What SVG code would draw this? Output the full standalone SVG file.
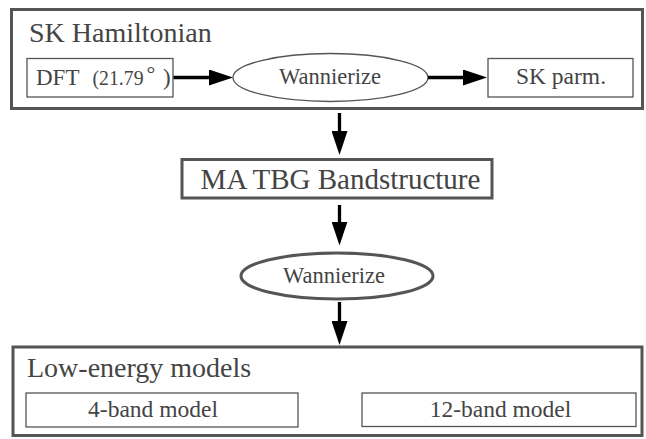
<svg xmlns="http://www.w3.org/2000/svg" width="646" height="439" viewBox="0 0 646 439">
  <style>
    text { font-family: "Liberation Serif", "Tinos", "DejaVu Serif", serif; fill: #444; }
    .outer { fill: none; stroke: #555; stroke-width: 3; }
    .inner { fill: none; stroke: #555; stroke-width: 1.3; }
    .edge { stroke: #000; stroke-width: 3.3; fill: none; marker-end: url(#head); }
  </style>
  <defs>
    <marker id="head" markerUnits="userSpaceOnUse" viewBox="0 0 24 16" markerWidth="24" markerHeight="16" refX="3" refY="8" orient="auto">
      <path d="M0,0 L24,8 L0,16 Z" fill="#000"/>
    </marker>
  </defs>

  <rect width="646" height="439" fill="#fff"/>

  <!-- Slater-Koster Hamiltonian stage -->
  <g id="sk-hamiltonian">
    <rect class="outer" x="11.5" y="9.5" width="631" height="99"/>
    <text x="29" y="42" font-size="28">SK Hamiltonian</text>
  </g>
  <g id="dft">
    <rect class="inner" x="27" y="58.5" width="146" height="38.5"/>
    <text y="85" font-size="23"><tspan x="36">DFT</tspan><tspan x="92.5" font-size="20.8" textLength="51" lengthAdjust="spacingAndGlyphs">(21.79</tspan><tspan x="146.5" dy="-4" font-size="22">°</tspan><tspan x="163" dy="4">)</tspan></text>
  </g>
  <g id="wannierize-1">
    <ellipse class="inner" cx="330.5" cy="77.5" rx="97.5" ry="24"/>
    <text x="330" y="84" font-size="22.5" text-anchor="middle">Wannierize</text>
  </g>
  <g id="sk-parm">
    <rect class="inner" x="488" y="58.5" width="145" height="38.5"/>
    <text x="561" y="84" font-size="23.5" text-anchor="middle">SK parm.</text>
  </g>

  <!-- Moire-aware TBG band structure -->
  <g id="ma-tbg">
    <rect class="outer" x="182" y="159.5" width="310" height="38.5"/>
    <text x="340.5" y="189" font-size="29" text-anchor="middle">MA TBG Bandstructure</text>
  </g>
  <g id="wannierize-2">
    <ellipse class="outer" cx="337" cy="276" rx="96" ry="23"/>
    <text x="334" y="282.5" font-size="22.5" text-anchor="middle">Wannierize</text>
  </g>

  <!-- Low-energy models stage -->
  <g id="low-energy">
    <rect class="outer" x="13" y="347" width="629" height="88.5"/>
    <text x="27" y="377" font-size="28">Low-energy models</text>
  </g>
  <g id="four-band">
    <rect class="inner" x="26" y="393" width="272" height="34"/>
    <text x="153" y="416.5" font-size="23.5" text-anchor="middle">4-band model</text>
  </g>
  <g id="twelve-band">
    <rect class="inner" x="362" y="393" width="274" height="33.5"/>
    <text x="500.5" y="416.5" font-size="23.5" text-anchor="middle">12-band model</text>
  </g>

  <!-- Connectors -->
  <g id="connectors">
    <line class="edge" x1="173.5" y1="77.5" x2="212" y2="77.5"/>
    <line class="edge" x1="428" y1="77.5" x2="466" y2="77.5"/>
    <line class="edge" x1="339.5" y1="113" x2="339.5" y2="134"/>
    <line class="edge" x1="339.5" y1="205" x2="339.5" y2="224.5"/>
    <line class="edge" x1="339.5" y1="302" x2="339.5" y2="324"/>
  </g>
</svg>
